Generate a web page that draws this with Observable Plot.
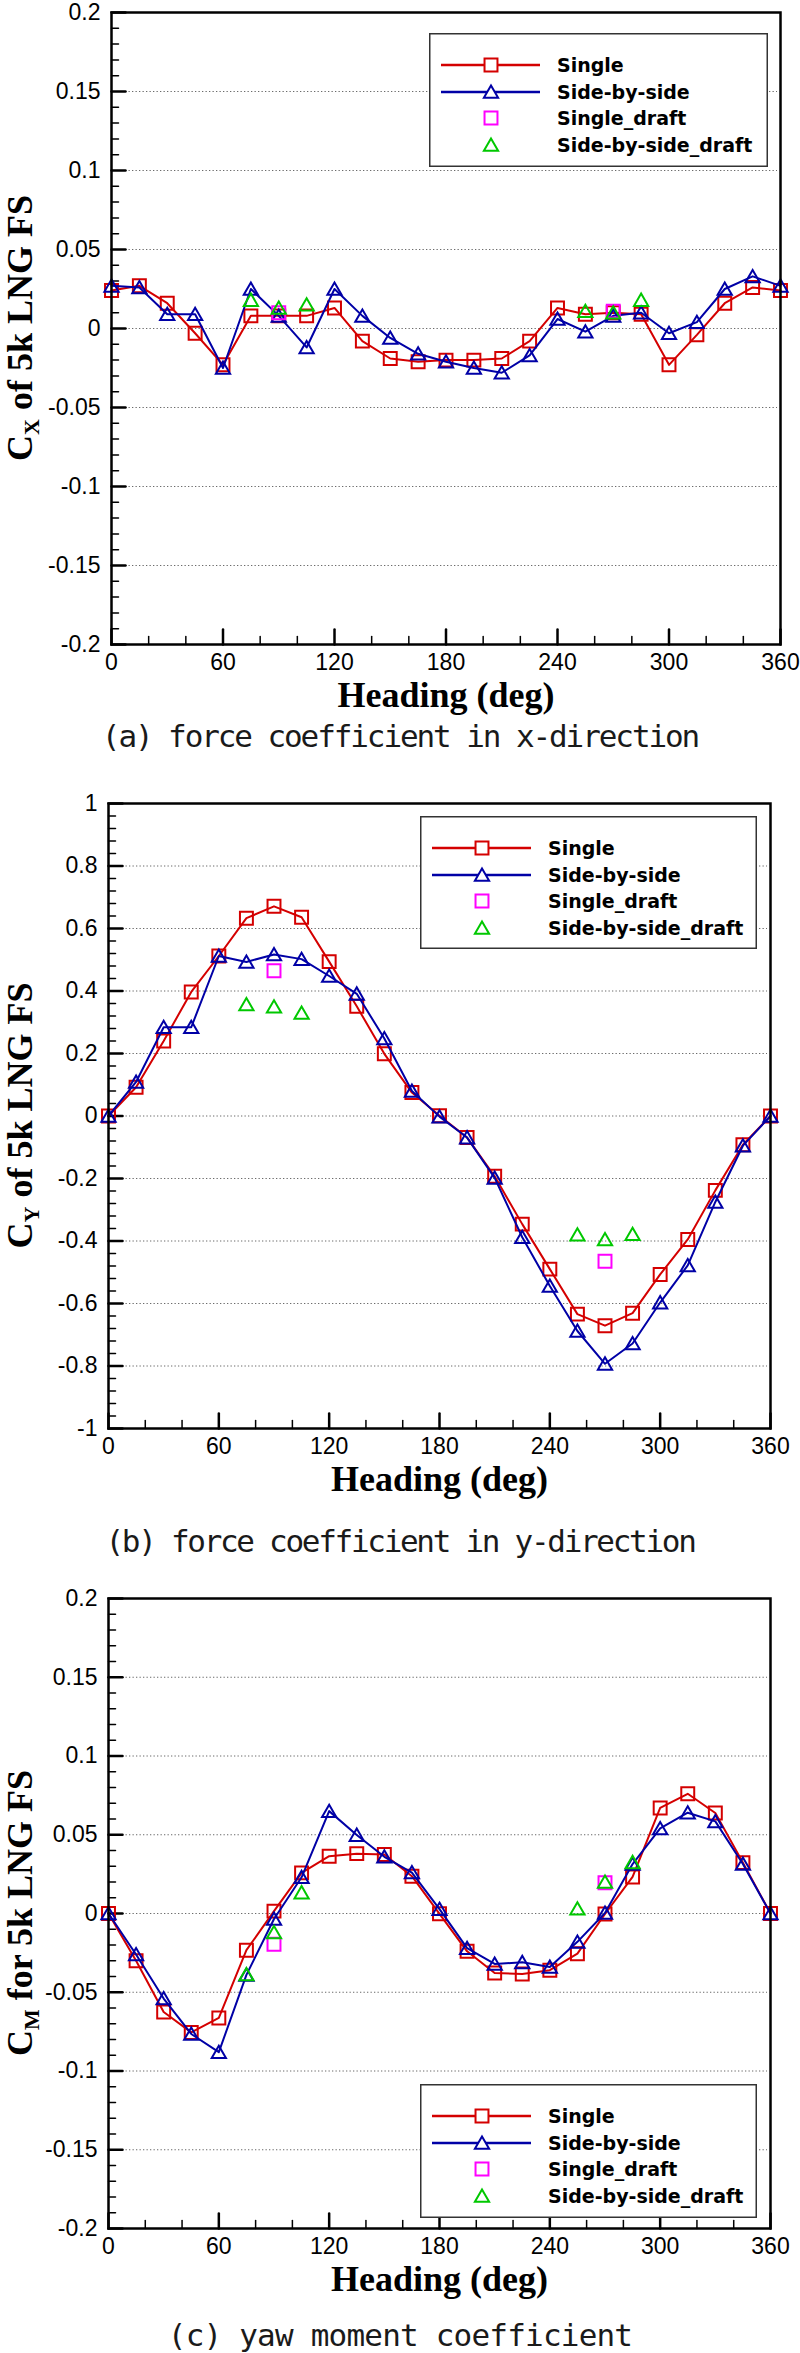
<!DOCTYPE html>
<html>
<head>
<meta charset="utf-8">
<script src="https://cdn.jsdelivr.net/npm/d3@7"></script>
<script src="https://cdn.jsdelivr.net/npm/@observablehq/plot@0.6"></script>
<style>
  body { margin: 0; background: #fff; }
  #page { position: relative; width: 800px; height: 2353px; overflow: hidden; background: #fff; }
  .panel { position: absolute; left: 0; }
  .caption { position: absolute; left: 0; width: 800px; text-align: center;
             font-family: "DejaVu Sans Mono", monospace; font-size: 31px; line-height: 31px;
             color: #1a1a1a; white-space: pre; }
  .legend { position: absolute; }
</style>
</head>
<body>
<div id="page"></div>
<script>
// Wave headings (deg)
const headings = [0, 15, 30, 45, 60, 75, 90, 105, 120, 135, 150, 165, 180,
                  195, 210, 225, 240, 255, 270, 285, 300, 315, 330, 345, 360];
const sideDraftHeadings = [75, 90, 105, 255, 270, 285];
const singleDraftHeadings = [90, 270];

// Surge force coefficient C_X
const cxSingle = [0.024, 0.027, 0.016, -0.003, -0.023, 0.008, 0.008, 0.008, 0.013, -0.008, -0.019, -0.021, -0.020,
                  -0.020, -0.019, -0.008, 0.013, 0.009, 0.010, 0.009, -0.023, -0.004, 0.016, 0.026, 0.024];
const cxSide = [0.027, 0.026, 0.009, 0.009, -0.025, 0.025, 0.008, -0.012, 0.025, 0.008, -0.006, -0.016, -0.021,
                -0.025, -0.028, -0.017, 0.006, -0.002, 0.008, 0.010, -0.003, 0.004, 0.025, 0.033, 0.027];
const cxSingleDraft = [0.010, 0.011];
const cxSideDraft = [0.018, 0.013, 0.015, 0.011, 0.010, 0.018];

// Sway force coefficient C_Y
const cySingle = [0, 0.092, 0.24, 0.397, 0.512, 0.633, 0.671, 0.636, 0.494, 0.351, 0.199, 0.075, 0.001,
                  -0.069, -0.193, -0.346, -0.49, -0.634, -0.671, -0.631, -0.507, -0.395, -0.238, -0.092, 0];
const cySide = [0, 0.109, 0.284, 0.284, 0.512, 0.493, 0.517, 0.502, 0.448, 0.391, 0.248, 0.08, -0.002,
                -0.069, -0.198, -0.388, -0.544, -0.688, -0.793, -0.728, -0.597, -0.478, -0.275, -0.095, 0];
const cySingleDraft = [0.465, -0.465];
const cySideDraft = [0.357, 0.35, 0.33, -0.38, -0.395, -0.378];

// Yaw moment coefficient C_M
const cmSingle = [0, -0.030, -0.0625, -0.0755, -0.0663, -0.0233, 0.0015, 0.0258, 0.0364, 0.038, 0.0375, 0.0237, -0.0002,
                  -0.024, -0.0378, -0.0384, -0.036, -0.0255, -0.0003, 0.0232, 0.067, 0.076, 0.0638, 0.0323, 0];
const cmSide = [0, -0.026, -0.054, -0.0765, -0.088, -0.039, -0.0035, 0.023, 0.065, 0.0498, 0.036, 0.026, 0.0028,
                -0.022, -0.032, -0.031, -0.034, -0.018, 0.0003, 0.0314, 0.054, 0.064, 0.0585, 0.0314, 0];
const cmSingleDraft = [-0.0195, 0.0195];
const cmSideDraft = [-0.0387, -0.012, 0.0133, 0.003, 0.020, 0.0325];

// Series names, colours and axis ticks
const seriesNames = ["Single", "Side-by-side", "Single_draft", "Side-by-side_draft"];
const seriesColors = ["#d40000", "#0000a6", "#ff00ff", "#00c800"];
const xTicks = [0, 60, 120, 180, 240, 300, 360];
const xMinorTicks = [20, 40, 80, 100, 140, 160, 200, 220, 260, 280, 320, 340];
const yTicksSmall = [-0.2, -0.15, -0.1, -0.05, 0, 0.05, 0.1, 0.15, 0.2];
const yTicksLarge = [-1, -0.8, -0.6, -0.4, -0.2, 0, 0.2, 0.4, 0.6, 0.8, 1];
const captions = ["(a) force coefficient in x-direction",
                  "(b) force coefficient in y-direction",
                  "(c) yaw moment coefficient"];
const xLabel = "Heading (deg)";

// Hollow square and delta symbols
const squareSymbol = {
  draw(ctx, size) {
    const h = Math.sqrt(size) / 2;
    ctx.moveTo(-h, -h); ctx.lineTo(h, -h); ctx.lineTo(h, h); ctx.lineTo(-h, h); ctx.closePath();
  }
};
const triangleSymbol = {
  draw(ctx, size) {
    const s = Math.sqrt(size);
    ctx.moveTo(0, -0.5 * s); ctx.lineTo(0.55 * s, 0.45 * s); ctx.lineTo(-0.55 * s, 0.45 * s); ctx.closePath();
  }
};
const seriesSymbols = [squareSymbol, triangleSymbol, squareSymbol, triangleSymbol];
const markerR = 7.3;

// Inward tick shapes for the vector mark
const tickRight = { draw(ctx, l) { ctx.moveTo(0, 0); ctx.lineTo(l, 0); } };
const tickUp = { draw(ctx, l) { ctx.moveTo(0, 0); ctx.lineTo(0, -l); } };

const tickFont = "Liberation Sans, Arial, sans-serif";
const serifFont = "Liberation Serif, Times New Roman, serif";
const legendFont = "DejaVu Sans, Verdana, sans-serif";

const page = document.getElementById("page");

function minorBetween(majors, per) {
  const out = [];
  for (let i = 0; i < majors.length - 1; i++) {
    const a = majors[i], b = majors[i + 1];
    for (let k = 1; k < per; k++) out.push(+(a + (b - a) * k / per).toFixed(6));
  }
  return out;
}

function makePanel(cfg) {
  const single = headings.map((h, i) => ({h, v: cfg.single[i]}));
  const side = headings.map((h, i) => ({h, v: cfg.side[i]}));
  const singleDraft = singleDraftHeadings.map((h, i) => ({h, v: cfg.singleDraft[i]}));
  const sideDraft = sideDraftHeadings.map((h, i) => ({h, v: cfg.sideDraft[i]}));
  const yTicks = cfg.yTicks;
  const yGrid = yTicks.slice(1, -1);
  const yMinor = minorBetween(yTicks, 5);
  const tickStyle = {stroke: "black", anchor: "start"};

  const plot = Plot.plot({
    width: 800,
    height: cfg.height,
    marginTop: cfg.mt, marginBottom: cfg.mb, marginLeft: cfg.ml, marginRight: cfg.mr,
    x: {domain: [0, 360], axis: null},
    y: {domain: [yTicks[0], yTicks[yTicks.length - 1]], axis: null},
    style: {background: "white", overflow: "visible", fontFamily: tickFont},
    marks: [
      Plot.ruleY(yGrid, {stroke: "#6a6a6a", strokeWidth: 1.1, strokeDasharray: "1.3,2.2", insetLeft: 14, insetRight: 3}),
      Plot.vector(yMinor, {y: d => d, frameAnchor: "left", length: 7, shape: tickRight, strokeWidth: 1.5, ...tickStyle}),
      Plot.vector(yTicks, {y: d => d, frameAnchor: "left", length: 14, shape: tickRight, strokeWidth: 2.5, ...tickStyle}),
      Plot.vector(xMinorTicks, {x: d => d, frameAnchor: "bottom", length: 8, shape: tickUp, strokeWidth: 1.5, ...tickStyle}),
      Plot.vector(xTicks, {x: d => d, frameAnchor: "bottom", length: 15, shape: tickUp, strokeWidth: 2.5, ...tickStyle}),
      Plot.text(yTicks, {y: d => d, frameAnchor: "left", text: d => String(d), textAnchor: "end", dx: -11,
                         fontSize: 23, fontFamily: tickFont, fill: "black"}),
      Plot.text(xTicks, {x: d => d, frameAnchor: "bottom", text: d => String(d), lineAnchor: "top", dy: 9,
                         fontSize: 23, fontFamily: tickFont, fill: "black"}),
      Plot.text([xLabel], {text: d => d, frameAnchor: "bottom", lineAnchor: "bottom", dy: 62,
                           fontSize: 36, fontWeight: "bold", fontFamily: serifFont, fill: "black"}),
      Plot.line(single, {x: "h", y: "v", stroke: seriesColors[0], strokeWidth: 2}),
      Plot.dot(single, {x: "h", y: "v", symbol: squareSymbol, r: markerR, stroke: seriesColors[0], strokeWidth: 2, fill: "none"}),
      Plot.line(side, {x: "h", y: "v", stroke: seriesColors[1], strokeWidth: 2}),
      Plot.dot(side, {x: "h", y: "v", symbol: triangleSymbol, r: markerR, stroke: seriesColors[1], strokeWidth: 2, fill: "none"}),
      Plot.dot(singleDraft, {x: "h", y: "v", symbol: squareSymbol, r: markerR, stroke: seriesColors[2], strokeWidth: 2, fill: "none"}),
      Plot.dot(sideDraft, {x: "h", y: "v", symbol: triangleSymbol, r: markerR, stroke: seriesColors[3], strokeWidth: 2, fill: "none"}),
      Plot.frame({stroke: "black", strokeWidth: 2.5})
    ]
  });

  // Rotated y-axis title with subscript
  const cy = (cfg.mt + cfg.height - cfg.mb) / 2;
  const t = d3.select(plot).append("text")
    .attr("transform", `translate(32,${cy}) rotate(-90)`)
    .attr("text-anchor", "middle")
    .attr("font-family", serifFont)
    .attr("font-weight", "bold")
    .attr("font-size", 36)
    .attr("fill", "black");
  t.append("tspan").text("C");
  t.append("tspan").attr("font-size", 22).attr("dy", 7).text(cfg.sub);
  t.append("tspan").attr("dy", -7).text(cfg.rest);

  plot.classList.add("panel");
  plot.style.top = cfg.top + "px";
  page.appendChild(plot);

  // Caption under the panel
  const cap = document.createElement("div");
  cap.className = "caption";
  cap.style.top = cfg.captionTop + "px";
  cap.style.letterSpacing = cfg.captionSpacing + "px";
  cap.textContent = cfg.caption;
  page.appendChild(cap);

  // Legend box
  makeLegend(cfg.legend.x, cfg.legend.y, cfg.legend.w, cfg.legend.h);
}

function makeLegend(x, y, w, h) {
  const svg = d3.create("svg")
    .attr("class", "legend")
    .attr("width", w).attr("height", h)
    .style("left", x + "px").style("top", y + "px");
  svg.append("rect").attr("x", 0.75).attr("y", 0.75).attr("width", w - 1.5).attr("height", h - 1.5)
    .attr("fill", "white").attr("stroke", "#333").attr("stroke-width", 1.5);
  const rows = [32, 59, 85, 112];
  seriesNames.forEach((name, i) => {
    const g = svg.append("g").attr("transform", `translate(0,${rows[i]})`);
    if (i < 2) {
      g.append("line").attr("x1", 12).attr("x2", 111).attr("y1", 0).attr("y2", 0)
        .attr("stroke", seriesColors[i]).attr("stroke-width", 2.5);
    }
    const p = d3.path();
    seriesSymbols[i].draw(p, Math.PI * markerR * markerR);
    g.append("path").attr("d", p.toString()).attr("transform", "translate(62,0)")
      .attr("fill", i < 2 ? "white" : "none").attr("stroke", seriesColors[i]).attr("stroke-width", 2);
    g.append("text").attr("x", 128).attr("y", 0).attr("dy", "0.36em")
      .attr("font-family", legendFont).attr("font-weight", "bold").attr("font-size", 19)
      .attr("fill", "black").text(name);
  });
  page.appendChild(svg.node());
}

makePanel({
  top: 0, height: 724, mt: 12, mb: 80, ml: 111, mr: 20,
  yTicks: yTicksSmall, single: cxSingle, side: cxSide, singleDraft: cxSingleDraft, sideDraft: cxSideDraft,
  sub: "X", rest: " of 5k LNG FS",
  caption: captions[0], captionTop: 721, captionSpacing: -2.1,
  legend: {x: 429, y: 33, w: 339, h: 134}
});
makePanel({
  top: 790, height: 716, mt: 13, mb: 78, ml: 108, mr: 30,
  yTicks: yTicksLarge, single: cySingle, side: cySide, singleDraft: cySingleDraft, sideDraft: cySideDraft,
  sub: "Y", rest: " of 5k LNG FS",
  caption: captions[1], captionTop: 1526, captionSpacing: -2.3,
  legend: {x: 420, y: 816, w: 337, h: 133}
});
makePanel({
  top: 1585, height: 721, mt: 13, mb: 78, ml: 108, mr: 30,
  yTicks: yTicksSmall, single: cmSingle, side: cmSide, singleDraft: cmSingleDraft, sideDraft: cmSideDraft,
  sub: "M", rest: " for 5k LNG FS",
  caption: captions[2], captionTop: 2320, captionSpacing: -0.8,
  legend: {x: 420, y: 2084, w: 337, h: 134}
});
</script>
</body>
</html>
